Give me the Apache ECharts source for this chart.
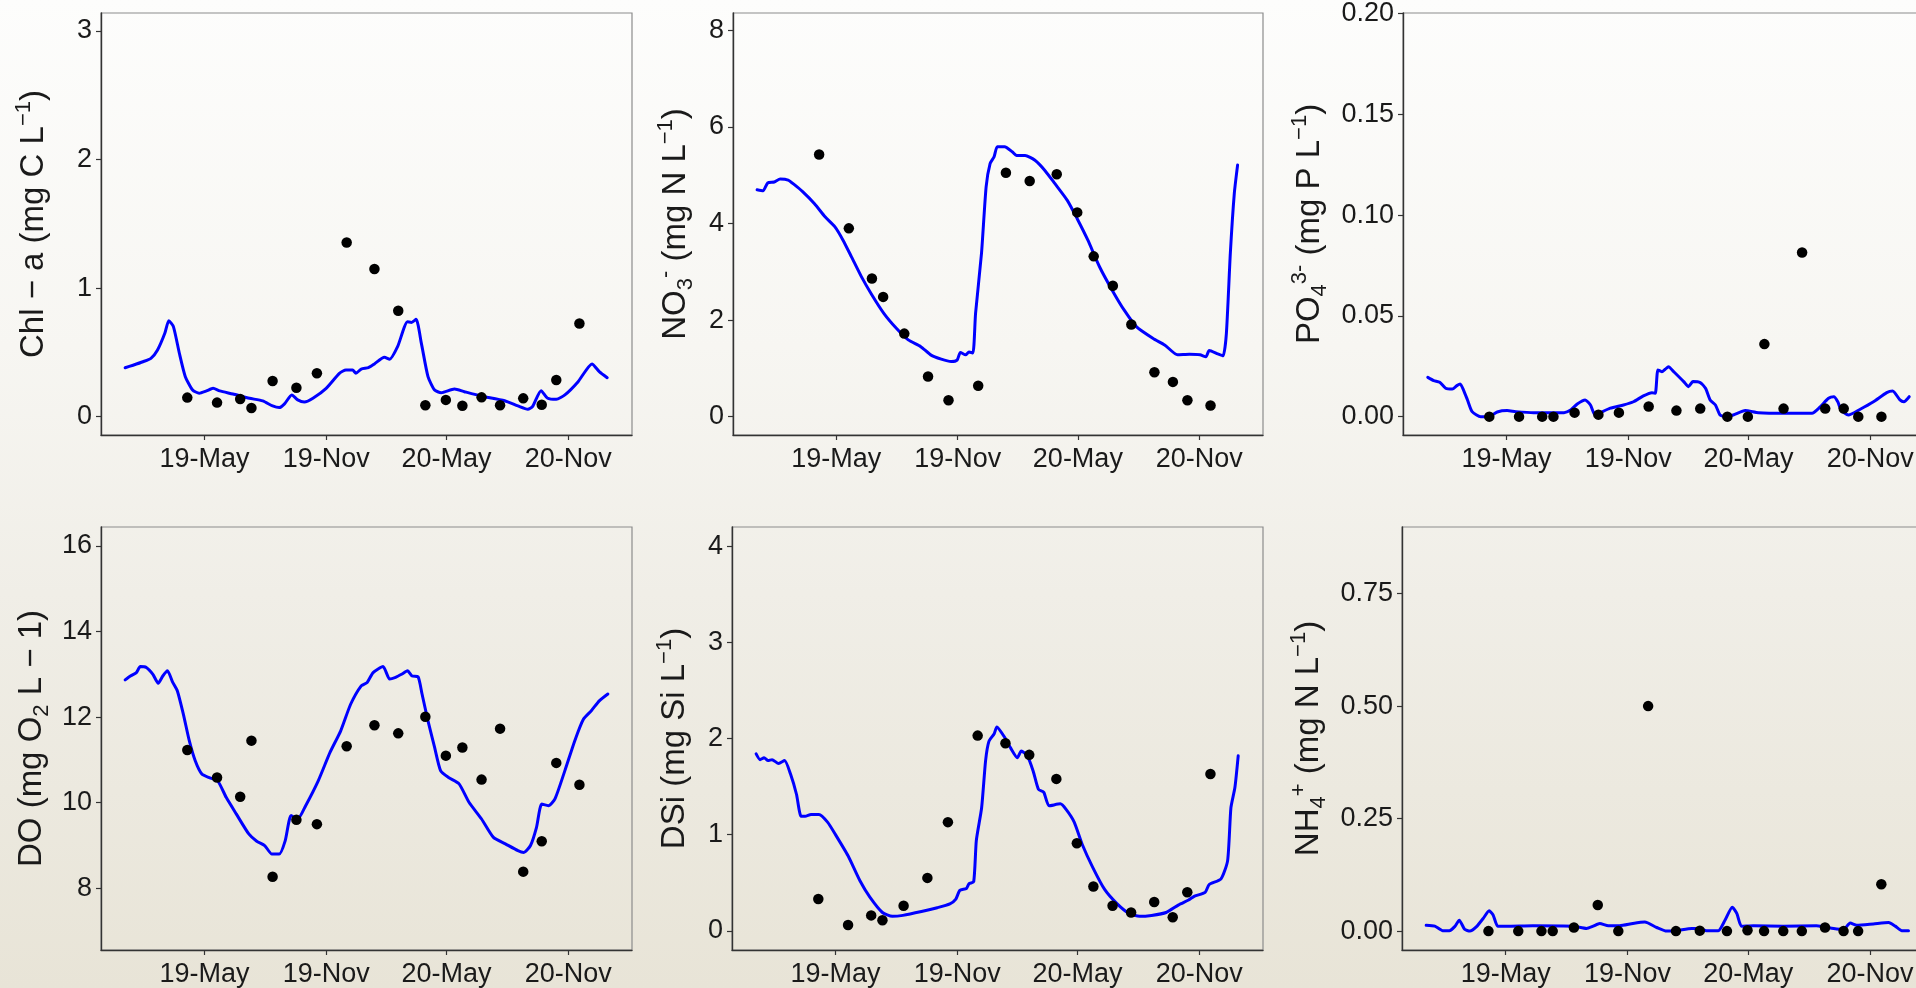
<!DOCTYPE html>
<html>
<head>
<meta charset="utf-8">
<script src="https://cdn.jsdelivr.net/npm/echarts@6/dist/echarts.min.js"></script>
<style>
html,body{margin:0;padding:0;width:1916px;height:988px;overflow:hidden;
background:linear-gradient(to bottom,#fdfdfc 0%,#f7f6f2 35%,#f0eee7 60%,#e8e4d7 100%);}
#chart{width:1916px;height:988px;}
</style>
</head>
<body>
<div id="chart"></div>
<script>
// ---------- data ----------
const obsDates = ['2019-04-05','2019-05-20','2019-06-24','2019-07-11','2019-08-12','2019-09-17','2019-10-18','2019-12-02','2020-01-13','2020-02-18','2020-03-30','2020-04-30','2020-05-25','2020-06-23','2020-07-21','2020-08-25','2020-09-22','2020-10-14','2020-11-18'];
const xTickDates = ['2019-05-01','2019-11-01','2020-05-01','2020-11-01'];
const xRange = ['2018-11-25T12:00:00Z','2021-02-05T12:00:00Z'];
const simStart = '2019-01-01'; // model output: [day since simStart, value]

const chlObs = [0.148,0.109,0.137,0.067,0.277,0.225,0.337,1.355,1.148,0.824,0.088,0.13,0.085,0.15,0.088,0.142,0.093,0.285,0.725];
const chlSim = [[0,0.38],[12,0.40],[27,0.427],[39,0.453],[49,0.518],[60,0.648],[66,0.746],[73,0.70],[82,0.493],[91,0.311],[102,0.207],[112,0.182],[123,0.20],[133,0.22],[143,0.20],[163,0.176],[188,0.143],[208,0.122],[223,0.083],[233,0.07],[241,0.099],[252,0.169],[261,0.13],[271,0.114],[284,0.143],[304,0.22],[324,0.337],[334,0.363],[344,0.363],[349,0.337],[357,0.37],[368,0.381],[377,0.41],[392,0.462],[400,0.446],[412,0.544],[427,0.738],[433,0.733],[440,0.757],[448,0.57],[458,0.311],[468,0.207],[478,0.186],[498,0.215],[513,0.194],[538,0.161],[574,0.124],[594,0.083],[609,0.057],[616,0.078],[629,0.202],[639,0.143],[652,0.135],[665,0.169],[685,0.272],[706,0.41],[717,0.35],[729,0.303]];
const chlTicks = [0,1,2,3];

const no3Obs = [5.43,3.90,2.86,2.48,1.72,0.83,0.34,0.64,5.05,4.88,5.02,4.23,3.32,2.71,1.91,0.92,0.72,0.34,0.23];
const no3Sim = [[0,4.70],[9,4.68],[16,4.84],[26,4.86],[35,4.92],[47,4.90],[56,4.81],[69,4.66],[87,4.41],[103,4.14],[118,3.93],[130,3.66],[143,3.31],[158,2.90],[174,2.52],[192,2.14],[211,1.83],[229,1.59],[248,1.45],[263,1.28],[279,1.19],[294,1.14],[303,1.17],[308,1.33],[316,1.28],[321,1.34],[327,1.32],[331,2.14],[340,3.38],[347,4.76],[353,5.24],[359,5.38],[364,5.59],[375,5.59],[387,5.48],[393,5.41],[406,5.41],[421,5.31],[436,5.10],[451,4.83],[470,4.48],[485,4.10],[501,3.66],[519,3.10],[538,2.62],[556,2.21],[575,1.86],[600,1.62],[618,1.48],[637,1.28],[655,1.29],[671,1.28],[680,1.24],[685,1.37],[698,1.30],[706,1.26],[711,1.72],[717,3.38],[723,4.62],[728,5.21]];
const no3Ticks = [0,2,4,6,8];

const po4Obs = [0,0,0,0,0.002,0.001,0.002,0.005,0.003,0.004,0,0,0.036,0.004,0.0815,0.004,0.004,0,0];
const po4Sim = [[1,0.0195],[10,0.0179],[19,0.0171],[28,0.0141],[38,0.0137],[45,0.0154],[50,0.0162],[55,0.0132],[61,0.0083],[68,0.0025],[81,0.0],[93,0.0],[106,0.0023],[121,0.003],[134,0.0025],[161,0.002],[207,0.002],[217,0.0033],[227,0.0063],[239,0.0083],[247,0.0058],[254,0.0008],[262,0.002],[277,0.0042],[297,0.0058],[312,0.0074],[327,0.0103],[340,0.0119],[345,0.0116],[349,0.0232],[355,0.0223],[360,0.0235],[365,0.0248],[373,0.0223],[388,0.0174],[395,0.0149],[402,0.0174],[413,0.0169],[421,0.0141],[428,0.0083],[436,0.0058],[443,0.0008],[451,0.0],[463,0.0008],[481,0.003],[501,0.002],[539,0.0017],[582,0.0017],[594,0.0047],[607,0.0091],[615,0.0099],[621,0.0074],[626,0.0033],[637,0.0008],[655,0.0037],[675,0.0074],[695,0.0119],[704,0.0127],[715,0.0083],[721,0.0074],[729,0.0099]];
const po4Ticks = [0,0.05,0.10,0.15,0.20];

const doObs = [11.23,10.59,10.14,11.45,8.27,9.60,9.50,11.32,11.81,11.62,12.01,11.10,11.29,10.54,11.73,8.39,9.10,10.93,10.42];
const doSim = [[0,12.87],[8,12.96],[17,13.04],[23,13.18],[32,13.16],[42,13.00],[50,12.79],[57,12.96],[64,13.08],[72,12.81],[79,12.61],[88,12.07],[97,11.45],[106,10.98],[116,10.67],[128,10.58],[140,10.51],[153,10.12],[168,9.74],[187,9.27],[199,9.10],[211,9.00],[222,8.80],[233,8.80],[242,9.11],[251,9.70],[261,9.62],[273,9.93],[292,10.51],[310,11.18],[326,11.68],[341,12.30],[357,12.73],[366,12.81],[375,13.04],[390,13.18],[400,12.89],[409,12.93],[418,13.00],[427,13.08],[434,12.96],[443,12.94],[449,12.54],[458,11.91],[468,11.29],[477,10.75],[489,10.59],[505,10.44],[520,10.01],[539,9.62],[557,9.19],[575,9.04],[594,8.88],[603,8.84],[613,9.00],[622,9.42],[630,9.97],[640,9.93],[650,10.09],[665,10.75],[680,11.45],[693,11.95],[705,12.15],[717,12.38],[730,12.54]];
const doTicks = [8,10,12,14,16];

const dsiObs = [0.33,0.06,0.16,0.11,0.26,0.55,1.13,2.03,1.95,1.83,1.58,0.91,0.46,0.26,0.19,0.30,0.14,0.40,1.63];
const dsiSim = [[0,1.84],[6,1.78],[12,1.80],[18,1.77],[24,1.78],[34,1.74],[43,1.77],[52,1.63],[61,1.42],[68,1.19],[74,1.19],[83,1.21],[95,1.21],[108,1.13],[120,1.00],[139,0.78],[157,0.52],[172,0.35],[191,0.19],[206,0.15],[222,0.16],[250,0.20],[274,0.24],[293,0.28],[302,0.33],[308,0.42],[318,0.44],[322,0.49],[329,0.51],[333,0.94],[341,1.28],[347,1.77],[352,1.97],[360,2.05],[364,2.12],[376,2.01],[385,1.90],[395,1.80],[401,1.87],[410,1.82],[419,1.66],[427,1.47],[435,1.44],[443,1.30],[460,1.32],[469,1.26],[481,1.13],[493,0.90],[509,0.66],[527,0.43],[546,0.28],[564,0.18],[580,0.15],[598,0.16],[620,0.19],[639,0.27],[654,0.32],[663,0.36],[679,0.40],[685,0.48],[703,0.54],[713,0.73],[718,1.28],[724,1.49],[729,1.82]];
const dsiTicks = [0,1,2,3,4];

const nh4Obs = [0,0,0,0,0.008,0.058,0,0.50,0,0.001,0,0.002,0,0,0,0.008,0,0,0.104];
const nh4Sim = [[0,0.013],[13,0.011],[25,0.001],[35,0.001],[43,0.01],[50,0.024],[58,0.004],[66,0],[76,0.01],[86,0.028],[95,0.045],[101,0.036],[108,0.011],[121,0.011],[161,0.012],[222,0.011],[242,0.006],[252,0.011],[262,0.017],[275,0.012],[292,0.012],[312,0.017],[330,0.02],[348,0.008],[363,0],[378,0.001],[401,0.006],[413,0.006],[423,0.001],[441,0.001],[451,0.024],[462,0.053],[469,0.039],[476,0.011],[494,0.012],[539,0.011],[589,0.012],[615,0.006],[630,0.004],[640,0.018],[650,0.013],[675,0.016],[698,0.019],[708,0.011],[718,0.001],[728,0.001]];
const nh4Ticks = [0,0.25,0.50,0.75];

// ---------- build ----------
const FONT = '"Liberation Sans", Arial, sans-serif';
const TXT = '#1a1a1a';
const DAY = 86400000;
const t0 = Date.parse(simStart + 'T00:00:00Z');
const MONTHS = ['Jan','Feb','Mar','Apr','May','Jun','Jul','Aug','Sep','Oct','Nov','Dec'];
const xTicks = xTickDates.map(d => Date.parse(d + 'T00:00:00Z'));
const xMin = Date.parse(xRange[0]), xMax = Date.parse(xRange[1]);
function fmtDate(v){ const d = new Date(v); return String(d.getUTCFullYear()).slice(2) + '-' + MONTHS[d.getUTCMonth()]; }

const panels = [
  {obs: chlObs, sim: chlSim, ticks: chlTicks, yMin: -0.143, yMax: 3.14, dec: 0,
   name: '{b|Chl − a (mg C L}{sp|−1}{b|)}', gap: 46,
   grid: {left: 101, right: 1284, top: 13, bottom: 553}},
  {obs: no3Obs, sim: no3Sim, ticks: no3Ticks, yMin: -0.38, yMax: 8.36, dec: 0,
   name: '{b|NO}{sb|3}{sp|-}{b| (mg N L}{sp|−1}{b|)}', gap: 36,
   grid: {left: 733, right: 653, top: 13, bottom: 553}},
  {obs: po4Obs, sim: po4Sim, ticks: po4Ticks, yMin: -0.0091, yMax: 0.2003, dec: 2,
   name: '{b|PO}{sb|4}{sp|3-}{b| (mg P L}{sp|−1}{b|)}', gap: 72,
   grid: {left: 1403, right: -18, top: 13, bottom: 553}},
  {obs: doObs, sim: doSim, ticks: doTicks, yMin: 6.56, yMax: 16.44, dec: 0,
   name: '{b|DO (mg O}{sb|2}{b| L − 1)}', gap: 48,
   grid: {left: 101, right: 1284, top: 527, bottom: 38}},
  {obs: dsiObs, sim: dsiSim, ticks: dsiTicks, yMin: -0.2, yMax: 4.2, dec: 0,
   name: '{b|DSi (mg Si L}{sp|−1}{b|)}', gap: 36,
   grid: {left: 732, right: 653, top: 527, bottom: 38}},
  {obs: nh4Obs, sim: nh4Sim, ticks: nh4Ticks, yMin: -0.042, yMax: 0.898, dec: 2,
   name: '{b|NH}{sb|4}{sp|+}{b| (mg N L}{sp|−1}{b|)}', gap: 72,
   grid: {left: 1402, right: -18, top: 527, bottom: 38}}
];

const grids = [], xAxes = [], yAxes = [], series = [];
panels.forEach((p, i) => {
  grids.push(Object.assign({show: true, borderColor: '#8c8c8c', borderWidth: 1.2,
    backgroundColor: 'transparent', containLabel: false, outerBoundsMode: 'none'}, p.grid));
  xAxes.push({
    type: 'value', gridIndex: i, min: xMin, max: xMax,
    axisLine: {show: true, onZero: false, lineStyle: {color: '#333', width: 1.4}},
    axisTick: {show: true, length: 5, customValues: xTicks, lineStyle: {color: '#333', width: 1.2}},
    axisLabel: {customValues: xTicks, formatter: fmtDate, fontSize: 27, fontFamily: FONT, color: TXT, margin: 11},
    splitLine: {show: false}
  });
  yAxes.push({
    type: 'value', gridIndex: i, min: p.yMin, max: p.yMax,
    axisLine: {show: true, onZero: false, lineStyle: {color: '#333', width: 1.4}},
    axisTick: {show: true, length: 5, customValues: p.ticks, lineStyle: {color: '#333', width: 1.2}},
    axisLabel: {customValues: p.ticks, formatter: v => v.toFixed(p.dec), fontSize: 27, fontFamily: FONT, color: TXT, margin: 9},
    splitLine: {show: false},
    name: p.name, nameLocation: 'middle', nameRotate: 90, nameGap: p.gap, nameMoveOverlap: false,
    nameTextStyle: {
      rich: {
        b: {fontSize: 33, fontFamily: FONT, color: TXT, lineHeight: 42},
        sp: {fontSize: 22, fontFamily: FONT, color: TXT, lineHeight: 22, verticalAlign: 'top'},
        sb: {fontSize: 22, fontFamily: FONT, color: TXT, lineHeight: 22, verticalAlign: 'bottom'}
      }
    }
  });
  series.push({
    type: 'line', xAxisIndex: i, yAxisIndex: i,
    data: p.sim.map(([d, v]) => [t0 + d * DAY, v]),
    showSymbol: false, symbol: 'none', silent: true,
    smooth: 0.2,
    lineStyle: {color: '#0000ff', width: 3, join: 'round', cap: 'round'}, z: 2
  });
  series.push({
    type: 'scatter', xAxisIndex: i, yAxisIndex: i,
    data: obsDates.map((d, j) => [Date.parse(d + 'T00:00:00Z'), p.obs[j]]),
    symbol: 'circle', symbolSize: 10.5, itemStyle: {color: '#000', opacity: 1}, z: 3
  });
});

const chart = echarts.init(document.getElementById('chart'), null, {renderer: 'canvas'});
chart.setOption({
  backgroundColor: 'transparent',
  animation: false,
  grid: grids, xAxis: xAxes, yAxis: yAxes, series: series
});
</script>
</body>
</html>
